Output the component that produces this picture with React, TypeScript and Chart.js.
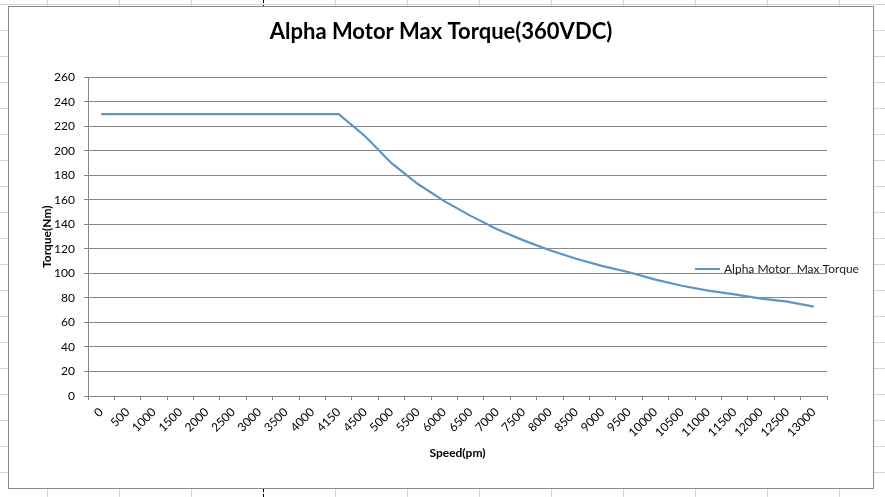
import React, { useEffect, useRef } from "react";
import { Chart, registerables } from "chart.js";

Chart.register(...registerables);

const speedLabels: string[] = [
  "0", "500", "1000", "1500", "2000", "2500", "3000", "3500", "4000", "4150",
  "4500", "5000", "5500", "6000", "6500", "7000", "7500", "8000", "8500", "9000",
  "9500", "10000", "10500", "11000", "11500", "12000", "12500", "13000",
];

const maxTorque: number[] = [
  230, 230, 230, 230, 230, 230, 230, 230, 230, 230,
  212, 190, 173, 159, 147, 136, 127, 119, 112, 106,
  101, 95, 90, 86, 83, 79.5, 77, 73,
];

const seriesLabel = "Alpha Motor  Max Torque";
const chartTitle = "Alpha Motor Max Torque(360VDC)";
const xTitle = "Speed(pm)";
const yTitle = "Torque(Nm)";

const FONT = "Lato, 'Open Sans', sans-serif";
const LINE_COLOR = "#6094c3";
const GRID_COLOR = "#878787";

const sideLegend = {
  id: "sideLegend",
  afterDraw(chart: any) {
    const ctx = chart.ctx as CanvasRenderingContext2D;
    const ds = chart.data.datasets[0];
    const x0 = 686;
    const y0 = 262;
    ctx.save();
    ctx.strokeStyle = ds.borderColor;
    ctx.lineWidth = 2;
    ctx.beginPath();
    ctx.moveTo(x0, y0);
    ctx.lineTo(x0 + 25, y0);
    ctx.stroke();
    ctx.fillStyle = "#1a1a1a";
    ctx.font = `12px ${FONT}`;
    ctx.textBaseline = "middle";
    ctx.textAlign = "left";
    ctx.fillText(ds.label, x0 + 29, y0);
    ctx.restore();
  },
};

export default function App() {
  const ref = useRef<HTMLCanvasElement | null>(null);

  useEffect(() => {
    if (!ref.current) return;
    const chart = new Chart(ref.current, {
      type: "line",
      data: {
        labels: speedLabels,
        datasets: [
          {
            label: seriesLabel,
            data: maxTorque,
            borderColor: LINE_COLOR,
            backgroundColor: LINE_COLOR,
            borderWidth: 2.2,
            pointRadius: 0,
            pointHoverRadius: 0,
            tension: 0,
            fill: false,
            yAxisID: "y",
          },
        ],
      },
      options: {
        responsive: false,
        animation: false,
        layout: { padding: { top: 12, right: 0, bottom: 0, left: 0 } },
        plugins: {
          legend: { display: false },
          tooltip: { enabled: false },
          title: {
            display: true,
            text: chartTitle,
            color: "#000",
            font: { family: FONT, size: 22, weight: "bold" },
            padding: { top: 0, bottom: 32 },
          },
        },
        scales: {
          x: {
            type: "category",
            offset: true,
            grid: {
              display: true,
              offset: true,
              drawOnChartArea: false,
              drawTicks: true,
              tickLength: 4,
              color: GRID_COLOR,
            },
            border: { display: true, color: GRID_COLOR },
            ticks: {
              autoSkip: false,
              minRotation: 45,
              maxRotation: 45,
              padding: 5,
              color: "#000",
              font: { family: FONT, size: 12 },
            },
            title: {
              display: true,
              text: xTitle,
              color: "#000",
              font: { family: FONT, size: 12, weight: "bold" },
              padding: { top: 0, bottom: 28 },
            },
            afterFit(scale: any) {
              scale.height = 92;
            },
          },
          y: {
            min: 0,
            max: 260,
            grid: {
              color: GRID_COLOR,
              drawTicks: true,
              tickLength: 4,
            },
            border: { display: true, color: GRID_COLOR },
            ticks: {
              stepSize: 20,
              padding: 9,
              color: "#000",
              font: { family: FONT, size: 12 },
            },
            title: {
              display: true,
              text: yTitle,
              color: "#000",
              font: { family: FONT, size: 12, weight: "bold" },
              padding: { top: 31, bottom: 0 },
            },
            afterFit(scale: any) {
              scale.width = 79;
            },
          },
          yRight: {
            type: "linear",
            position: "right",
            display: true,
            grid: { display: false, drawOnChartArea: false, drawTicks: false },
            border: { display: false },
            ticks: { display: false },
            title: { display: false },
            afterFit(scale: any) {
              scale.width = 46;
            },
          },
        },
      },
      plugins: [sideLegend],
    });
    return () => chart.destroy();
  }, []);

  return (
    <div
      style={{
        position: "absolute",
        left: 0,
        top: 0,
        width: 885,
        height: 497,
        overflow: "hidden",
        backgroundColor: "#fff",
        backgroundImage:
          "linear-gradient(to right, #d6d6d6 1px, transparent 1px), linear-gradient(to bottom, #d6d6d6 1px, transparent 1px)",
        backgroundSize: "72px 26px",
        backgroundPosition: "47px 4px",
      }}
    >
      <div
        style={{
          position: "absolute",
          left: 263,
          top: 0,
          width: 0,
          height: 497,
          borderLeft: "1px dashed #000",
        }}
      />
      <div
        style={{
          position: "absolute",
          left: 8,
          top: 6,
          width: 864,
          height: 481,
          border: "1px solid #8a8a8a",
          background: "#fff",
        }}
      >
        <canvas ref={ref} width={864} height={481} style={{ display: "block", width: 864, height: 481 }} />
      </div>
    </div>
  );
}
